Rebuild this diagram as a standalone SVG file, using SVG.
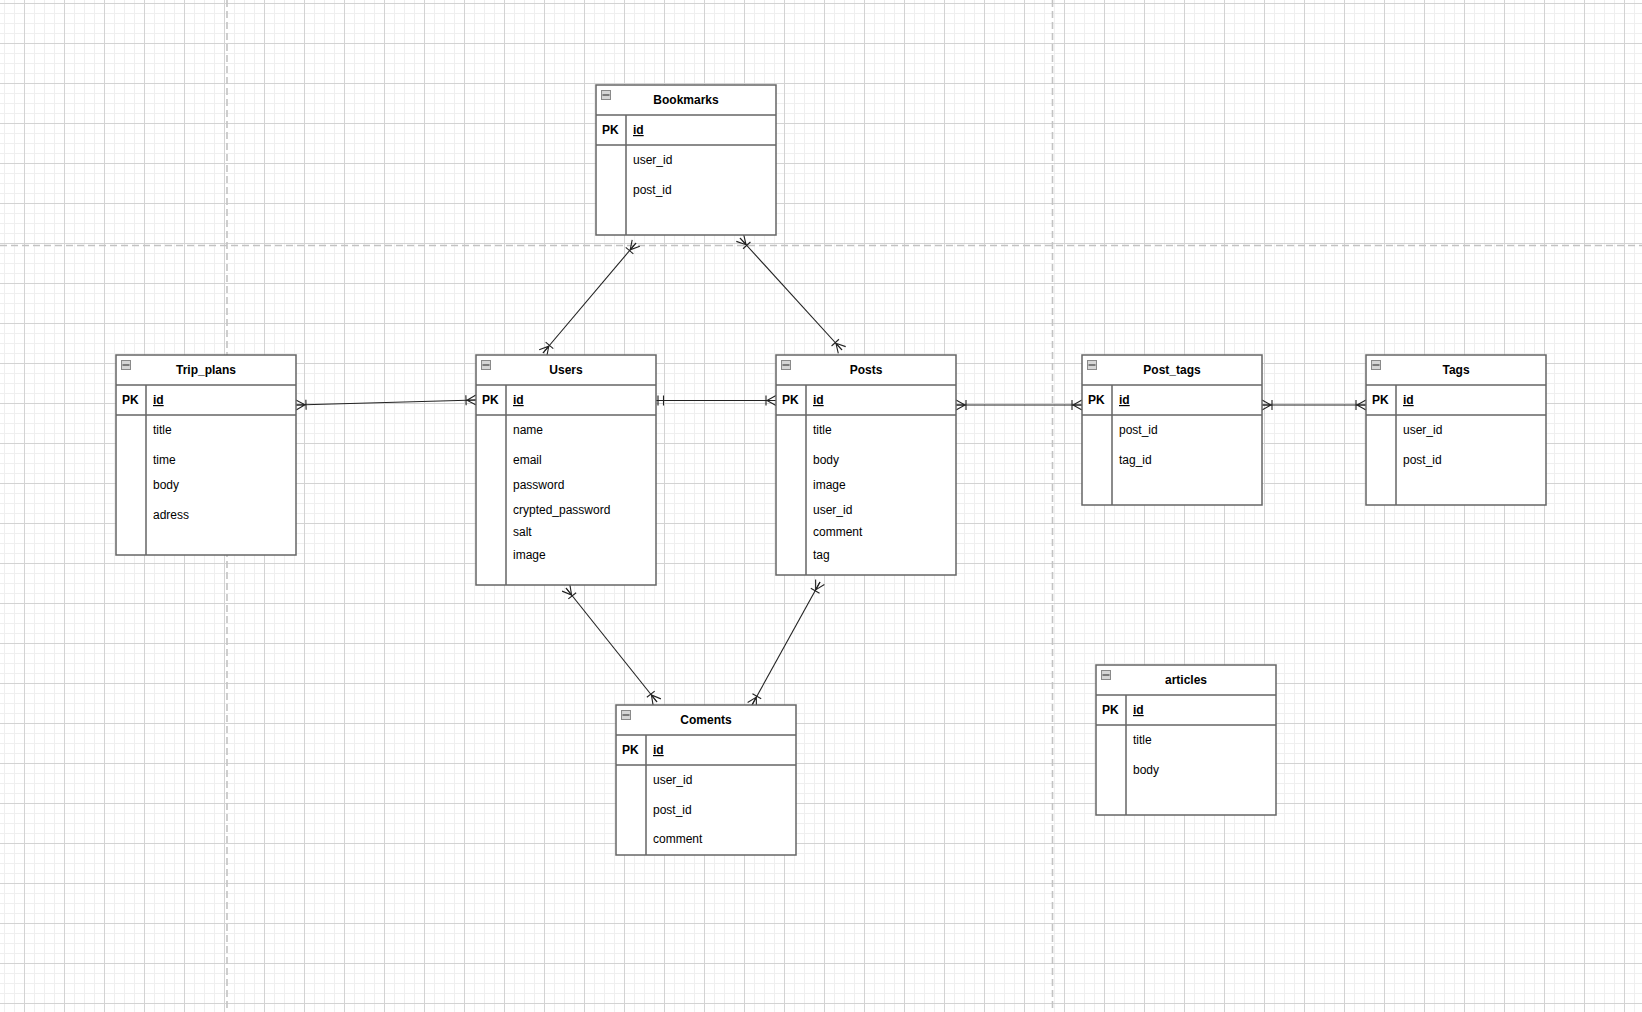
<svg xmlns="http://www.w3.org/2000/svg" width="1642" height="1012" viewBox="0 0 1642 1012">
<style>
.box{fill:#fff;stroke:#666;stroke-width:1.5}
.sep{stroke:#666;stroke-width:1.5;fill:none}
.title{font-family:"Liberation Sans",Arial,sans-serif;font-size:12px;font-weight:bold;fill:#000;text-anchor:middle}
.pk{font-family:"Liberation Sans",Arial,sans-serif;font-size:12px;font-weight:bold;fill:#000}
.f{font-family:"Liberation Sans",Arial,sans-serif;font-size:12px;fill:#000}
.idf{text-decoration:underline}
.conn{stroke:#222;stroke-width:1.1;fill:none}
.icon{fill:#d6d6d6;stroke:#8a8a8a;stroke-width:1}
.iconbar{stroke:#555;stroke-width:1.4}
</style>
<defs>
<pattern id="grid" x="4" y="3" width="40" height="40" patternUnits="userSpaceOnUse">
<path d="M0.5 0V40M10.5 0V40M30.5 0V40M0 10.5H40M0 20.5H40M0 30.5H40" stroke="#efefef" stroke-width="1" fill="none"/>
<path d="M20.5 0V40M0 0.5H40" stroke="#d3d3d3" stroke-width="1" fill="none"/>
</pattern>
<marker id="many" markerUnits="userSpaceOnUse" viewBox="-13 -7 15 14" refX="0" refY="0" markerWidth="15" markerHeight="14" orient="auto-start-reverse">
<path d="M0,-5L-9,0L0,5M0,0L-9,0M-10,-5L-10,5" stroke="#222" stroke-width="1.1" fill="none"/>
</marker>
<marker id="one" markerUnits="userSpaceOnUse" viewBox="-13 -7 15 14" refX="0" refY="0" markerWidth="15" markerHeight="14" orient="auto-start-reverse">
<path d="M-2,-5L-2,5M-7.5,-5L-7.5,5" stroke="#222" stroke-width="1.1" fill="none"/>
</marker>
</defs>
<rect width="1642" height="1012" fill="#fff"/>
<rect width="1642" height="1012" fill="url(#grid)"/>
<g id="page-breaks" stroke="#c3c3c3" stroke-width="1.6" stroke-dasharray="7 4" fill="none">
<path d="M227 0V1012"/>
<path d="M1052.5 0V1012"/>
<path d="M0 245.5H1642"/>
</g>

<g id="connectors">
<path class="conn" d="M543,353L636,243" marker-start="url(#many)" marker-end="url(#many)"/>
<path class="conn" d="M740,238L842,350" marker-start="url(#many)" marker-end="url(#many)"/>
<path class="conn" d="M296,405L476,400" marker-start="url(#many)" marker-end="url(#many)"/>
<path class="conn" d="M656,400.5L776,400.5" marker-start="url(#one)" marker-end="url(#many)"/>
<path class="conn" d="M956,405L1082,405" marker-start="url(#many)" marker-end="url(#many)"/>
<path class="conn" d="M1262,405L1366,405" marker-start="url(#many)" marker-end="url(#many)"/>
<path class="conn" d="M566,588L657,702" marker-start="url(#many)" marker-end="url(#many)"/>
<path class="conn" d="M820,582L752,705" marker-start="url(#many)" marker-end="url(#many)"/>
</g>

<g id="Bookmarks">
<rect class="box" x="596" y="85" width="180" height="150"/>
<path class="sep" d="M596,115H776M596,145H776M626,115V235"/>
<rect class="icon" x="601.5" y="90.5" width="9" height="9"/><path class="iconbar" d="M602.5,95H609.5"/>
<text class="title" x="686" y="104">Bookmarks</text>
<text class="pk" x="602" y="134">PK</text>
<text class="pk idf" x="633" y="134">id</text>
<text class="f" x="633" y="164">user_id</text>
<text class="f" x="633" y="194">post_id</text>
</g>

<g id="Trip_plans">
<rect class="box" x="116" y="355" width="180" height="200"/>
<path class="sep" d="M116,385H296M116,415H296M146,385V555"/>
<rect class="icon" x="121.5" y="360.5" width="9" height="9"/><path class="iconbar" d="M122.5,365H129.5"/>
<text class="title" x="206" y="374">Trip_plans</text>
<text class="pk" x="122" y="404">PK</text>
<text class="pk idf" x="153" y="404">id</text>
<text class="f" x="153" y="434">title</text>
<text class="f" x="153" y="464">time</text>
<text class="f" x="153" y="489">body</text>
<text class="f" x="153" y="519">adress</text>
</g>

<g id="Users">
<rect class="box" x="476" y="355" width="180" height="230"/>
<path class="sep" d="M476,385H656M476,415H656M506,385V585"/>
<rect class="icon" x="481.5" y="360.5" width="9" height="9"/><path class="iconbar" d="M482.5,365H489.5"/>
<text class="title" x="566" y="374">Users</text>
<text class="pk" x="482" y="404">PK</text>
<text class="pk idf" x="513" y="404">id</text>
<text class="f" x="513" y="434">name</text>
<text class="f" x="513" y="464">email</text>
<text class="f" x="513" y="489">password</text>
<text class="f" x="513" y="514">crypted_password</text>
<text class="f" x="513" y="536">salt</text>
<text class="f" x="513" y="559">image</text>
</g>

<g id="Posts">
<rect class="box" x="776" y="355" width="180" height="220"/>
<path class="sep" d="M776,385H956M776,415H956M806,385V575"/>
<rect class="icon" x="781.5" y="360.5" width="9" height="9"/><path class="iconbar" d="M782.5,365H789.5"/>
<text class="title" x="866" y="374">Posts</text>
<text class="pk" x="782" y="404">PK</text>
<text class="pk idf" x="813" y="404">id</text>
<text class="f" x="813" y="434">title</text>
<text class="f" x="813" y="464">body</text>
<text class="f" x="813" y="489">image</text>
<text class="f" x="813" y="514">user_id</text>
<text class="f" x="813" y="536">comment</text>
<text class="f" x="813" y="559">tag</text>
</g>

<g id="Post_tags">
<rect class="box" x="1082" y="355" width="180" height="150"/>
<path class="sep" d="M1082,385H1262M1082,415H1262M1112,385V505"/>
<rect class="icon" x="1087.5" y="360.5" width="9" height="9"/><path class="iconbar" d="M1088.5,365H1095.5"/>
<text class="title" x="1172" y="374">Post_tags</text>
<text class="pk" x="1088" y="404">PK</text>
<text class="pk idf" x="1119" y="404">id</text>
<text class="f" x="1119" y="434">post_id</text>
<text class="f" x="1119" y="464">tag_id</text>
</g>

<g id="Tags">
<rect class="box" x="1366" y="355" width="180" height="150"/>
<path class="sep" d="M1366,385H1546M1366,415H1546M1396,385V505"/>
<rect class="icon" x="1371.5" y="360.5" width="9" height="9"/><path class="iconbar" d="M1372.5,365H1379.5"/>
<text class="title" x="1456" y="374">Tags</text>
<text class="pk" x="1372" y="404">PK</text>
<text class="pk idf" x="1403" y="404">id</text>
<text class="f" x="1403" y="434">user_id</text>
<text class="f" x="1403" y="464">post_id</text>
</g>

<g id="Coments">
<rect class="box" x="616" y="705" width="180" height="150"/>
<path class="sep" d="M616,735H796M616,765H796M646,735V855"/>
<rect class="icon" x="621.5" y="710.5" width="9" height="9"/><path class="iconbar" d="M622.5,715H629.5"/>
<text class="title" x="706" y="724">Coments</text>
<text class="pk" x="622" y="754">PK</text>
<text class="pk idf" x="653" y="754">id</text>
<text class="f" x="653" y="784">user_id</text>
<text class="f" x="653" y="814">post_id</text>
<text class="f" x="653" y="843">comment</text>
</g>

<g id="articles">
<rect class="box" x="1096" y="665" width="180" height="150"/>
<path class="sep" d="M1096,695H1276M1096,725H1276M1126,695V815"/>
<rect class="icon" x="1101.5" y="670.5" width="9" height="9"/><path class="iconbar" d="M1102.5,675H1109.5"/>
<text class="title" x="1186" y="684">articles</text>
<text class="pk" x="1102" y="714">PK</text>
<text class="pk idf" x="1133" y="714">id</text>
<text class="f" x="1133" y="744">title</text>
<text class="f" x="1133" y="774">body</text>
</g>
</svg>
